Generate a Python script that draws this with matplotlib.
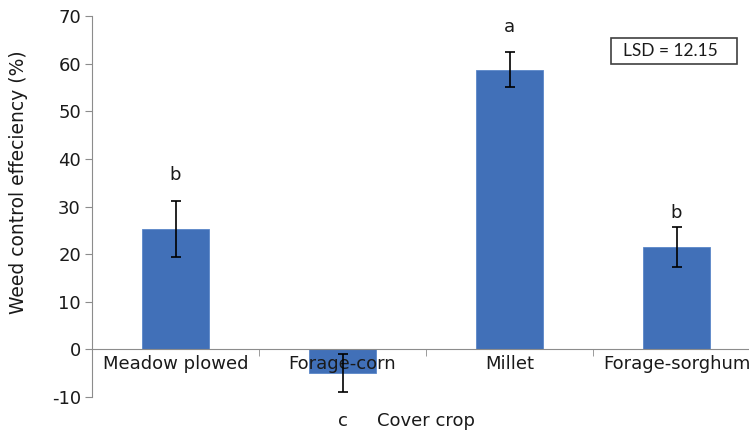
import matplotlib
matplotlib.use("Agg")
import matplotlib.pyplot as plt
from matplotlib.patches import Rectangle

plt.rcParams["axes.unicode_minus"] = False

# values
crops = ["Meadow plowed", "Forage-corn", "Millet", "Forage-sorghum"]
efficiency = [25.2, -5.0, 58.7, 21.6]
std_err = [5.9, 4.0, 3.7, 4.2]
letters = ["b", "c", "a", "b"]
letter_y = [36.6, -15.1, 67.7, 28.6]
lsd_text = "LSD = 12.15"

fig = plt.figure(figsize=(7.49, 4.37), dpi=100)
# axes runs a little past the right edge, like the reference crop
ax = fig.add_axes([92 / 749, 40 / 437, 668 / 749, 381 / 437])
ax.set_axisbelow(False)  # category labels sit on top of the bars

x = list(range(len(crops)))
ax.bar(x, efficiency, width=0.4, color="#4170b8", edgecolor="#5a86c8", linewidth=0.6, zorder=2)
ax.errorbar(x, efficiency, yerr=std_err, fmt="none", ecolor="black",
            elinewidth=1.2, capsize=3.8, capthick=1.2, zorder=3)

for xi, lab, ly in zip(x, letters, letter_y):
    ax.text(xi, ly, lab, ha="center", va="center", fontsize=13, color="#1a1a1a")

ax.set_xlim(-0.5, 3.5)
ax.set_ylim(-10, 70)
ax.set_yticks(range(-10, 71, 10))
ax.set_xticks(x)
ax.set_xticklabels(crops)
ax.set_xticks([i - 0.5 for i in range(len(crops) + 1)], minor=True)
ax.tick_params(axis="x", which="major", length=0, labelsize=13, pad=4, colors="#1a1a1a")
ax.tick_params(axis="x", which="minor", length=5, color="#8c8c8c", direction="out")
ax.tick_params(axis="y", length=5, color="#8c8c8c", labelsize=13, labelcolor="#1a1a1a", pad=3)

for s in ["top", "right"]:
    ax.spines[s].set_visible(False)
ax.spines["bottom"].set_position(("data", 0))
ax.spines["left"].set_color("#8c8c8c")
ax.spines["bottom"].set_color("#8c8c8c")

ax.set_ylabel("Weed control effeciency (%)", fontsize=13.5, color="#1a1a1a")
ax.yaxis.set_label_coords(-0.096, 0.564)
ax.text(1.5, -15.1, "Cover crop", ha="center", va="center", fontsize=13, color="#1a1a1a")

# LSD box
fig.patches.append(Rectangle((611 / 749, 1 - 64 / 437), 126 / 749, 26 / 437,
                             transform=fig.transFigure, facecolor="white",
                             edgecolor="#404040", linewidth=1.2))
fig.text(670 / 749, 1 - 51 / 437, lsd_text, ha="center", va="center",
         fontsize=12.5, family="Lato", color="#1a1a1a")

fig.savefig("out.png", dpi=100)
